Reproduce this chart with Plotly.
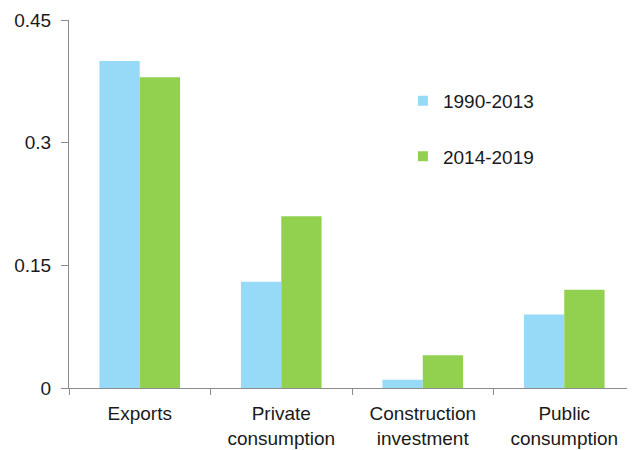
import plotly.graph_objects as go

categories = ["Exports", "Private<br>consumption", "Construction<br>investment", "Public<br>consumption"]
series_1990_2013 = [0.40, 0.13, 0.01, 0.09]
series_2014_2019 = [0.38, 0.21, 0.04, 0.12]
series_names = ["1990-2013", "2014-2019"]
series_colors = ["#97DAF8", "#92D050"]
y_ticks = [0, 0.15, 0.3, 0.45]
y_tick_labels = ["0", "0.15", "0.3", "0.45"]

fig = go.Figure()
for vals, name, col, grp in zip([series_1990_2013, series_2014_2019], series_names, series_colors, ["a", "b"]):
    fig.add_trace(go.Bar(x=categories, y=vals, name=name, showlegend=False,
                         marker=dict(color=col, line=dict(width=0)), legendgroup=grp))
    # legend entry with small square marker
    fig.add_trace(go.Scatter(x=[None], y=[None], mode="markers", name=name,
                             marker=dict(symbol="square", size=10, color=col),
                             legendgroup=grp, showlegend=True))

fig.update_layout(
    width=635, height=450,
    margin=dict(l=61, r=8, t=12, b=70, autoexpand=False),
    paper_bgcolor="white", plot_bgcolor="white",
    font=dict(family="Liberation Sans, Arial, sans-serif", size=19, color="#1a1a1a"),
    barmode="group", bargap=0.43, bargroupgap=0,
    legend=dict(x=0.59, y=0.832, xanchor="left", yanchor="top",
                traceorder="grouped", tracegroupgap=28,
                font=dict(size=19), itemwidth=30, bgcolor="rgba(0,0,0,0)"),
    xaxis=dict(showline=True, linecolor="#8c8c8c", linewidth=1,
               ticks="outside", tickson="boundaries", ticklen=6, tickcolor="#8c8c8c",
               showgrid=False, automargin=False, ticklabelstandoff=8),
    yaxis=dict(range=[0, 0.45], tickvals=y_ticks, ticktext=y_tick_labels,
               showline=True, linecolor="#8c8c8c", linewidth=1,
               ticks="outside", ticklen=7, tickcolor="#8c8c8c",
               showgrid=False, zeroline=False, automargin=False, ticklabelstandoff=6),
)
fig.write_html("out.html")
